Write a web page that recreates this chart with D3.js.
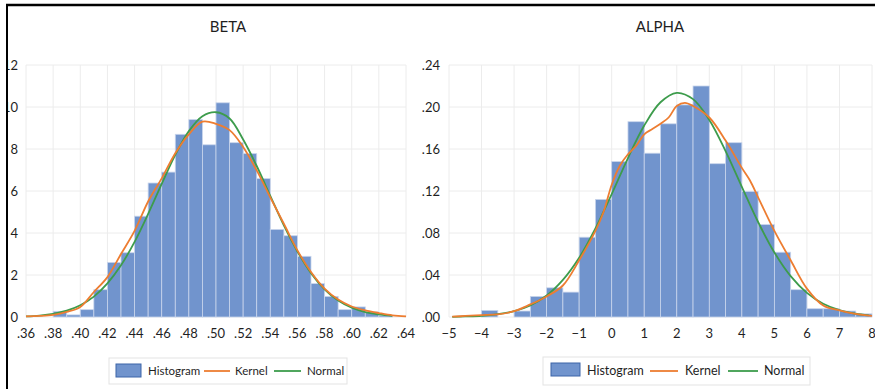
<!DOCTYPE html>
<html>
<head>
<meta charset="utf-8">
<script src="https://cdn.jsdelivr.net/npm/d3@7"></script>
<style>
  body { margin: 0; background: #fff; }
  text { font-family: Lato, "Open Sans", sans-serif; fill: #1f1f1f; }
</style>
</head>
<body>
<div id="chart"></div>
<script>
// ---- BETA data (histogram bins of width .01) ----
var betaBinStart = [0.38,0.39,0.40,0.41,0.42,0.43,0.44,0.45,0.46,0.47,0.48,0.49,0.50,0.51,0.52,0.53,0.54,0.55,0.56,0.57,0.58,0.59,0.60,0.61,0.62]
var betaHist = [0.27,0.1,0.35,1.3,2.6,3.06,4.8,6.38,6.9,8.7,9.4,8.2,10.2,8.3,7.78,6.59,4.17,3.87,2.89,1.59,0.98,0.35,0.48,0.24,0.08]
var betaKernelX = [0.36,0.37,0.38,0.39,0.40,0.41,0.42,0.43,0.44,0.45,0.46,0.47,0.48,0.49,0.50,0.51,0.52,0.53,0.54,0.55,0.56,0.57,0.58,0.59,0.60,0.61,0.62,0.63,0.64]
var betaKernel = [0.03,0.05,0.1,0.24,0.48,1.19,1.9,3.0,4.1,5.5,6.6,7.8,8.7,9.3,9.2,8.9,8.1,6.98,5.7,4.44,3.17,2.14,1.35,0.83,0.5,0.32,0.19,0.08,0.03]
var betaNormalX = [0.36,0.37,0.38,0.39,0.40,0.41,0.42,0.43,0.44,0.45,0.46,0.47,0.48,0.49,0.50,0.51,0.52,0.53,0.54,0.55,0.56,0.57,0.58,0.59,0.60,0.61,0.62,0.63]
var betaNormal = [0.03,0.07,0.15,0.3,0.56,0.97,1.6,2.46,3.58,4.91,6.34,7.72,8.85,9.56,9.75,9.45,8.45,7.19,5.77,4.36,3.12,2.09,1.32,0.78,0.44,0.23,0.12,0.05]
var betaXTicks = [0.36,0.38,0.40,0.42,0.44,0.46,0.48,0.50,0.52,0.54,0.56,0.58,0.60,0.62,0.64]
var betaYTicks = [0,2,4,6,8,10,12]

// ---- ALPHA data (histogram bins of width .5) ----
var alphaBinStart = [-4,-3.5,-3,-2.5,-2,-1.5,-1,-0.5,0,0.5,1,1.5,2,2.5,3,3.5,4,4.5,5,5.5,6,6.5,7,7.5]
var alphaHist = [0.0063,0,0.0057,0.0196,0.0278,0.0237,0.076,0.112,0.148,0.186,0.156,0.184,0.202,0.220,0.146,0.166,0.1195,0.088,0.0617,0.026,0.0079,0.0079,0.0057,0.003]
var alphaKernelX = [-4.9,-4.5,-4,-3.5,-3,-2.5,-2,-1.5,-1,-0.5,-0.25,0,0.25,0.5,0.75,1,1.25,1.5,1.75,2,2.25,2.5,3,3.5,4,4.25,4.5,5,5.5,6,6.5,7,7.5,8]
var alphaKernel = [0.0003,0.001,0.0018,0.0025,0.0055,0.012,0.0196,0.03,0.054,0.082,0.10,0.126,0.144,0.155,0.163,0.174,0.179,0.184,0.19,0.201,0.204,0.201,0.19,0.168,0.142,0.13,0.114,0.082,0.054,0.027,0.011,0.0063,0.003,0.001]
var alphaNormalX = [-4.9,-4.5,-4,-3.5,-3,-2.5,-2,-1.5,-1,-0.5,0,0.5,1,1.5,2,2.5,3,3.5,4,4.5,5,5.5,6,6.5,7,7.5,7.9]
var alphaNormal = [0.0002,0.0005,0.0011,0.0027,0.0056,0.011,0.0204,0.0353,0.0564,0.0843,0.117,0.1514,0.1823,0.2045,0.2135,0.2075,0.1877,0.158,0.124,0.0905,0.0615,0.0389,0.023,0.0126,0.0065,0.0031,0.0016]
var alphaXTicks = [-5,-4,-3,-2,-1,0,1,2,3,4,5,6,7,8]
var alphaYTicks = [0,0.04,0.08,0.12,0.16,0.20,0.24]

var barColor = "#7194cd", kernelColor = "#ed7d31", normalColor = "#3d9c4c"

var width = 875, height = 389
var svg = d3.select("#chart").append("svg")
    .attr("width", width)
    .attr("height", height)

svg.append("rect").attr("width", width).attr("height", height).attr("fill", "#fff")

function panel(opts){
   var x = d3.scaleLinear().domain(opts.xDomain).range(opts.xRange)
   var y = d3.scaleLinear().domain(opts.yDomain).range([317, 65])
   var g = svg.append("g")

   // gridlines
   g.selectAll(".vg").data(opts.xTicks).enter().append("line")
     .attr("x1", d => x(d)).attr("x2", d => x(d))
     .attr("y1", y.range()[1]).attr("y2", y.range()[0])
     .attr("stroke", "#ececec").attr("stroke-width", 1)
   g.selectAll(".hg").data(opts.yTicks).enter().append("line")
     .attr("x1", opts.xRange[0]).attr("x2", opts.xRange[1])
     .attr("y1", d => y(d)).attr("y2", d => y(d))
     .attr("stroke", "#ececec").attr("stroke-width", 1)

   // histogram
   g.selectAll(".bar").data(opts.binStart).enter().append("rect")
     .attr("x", d => x(d))
     .attr("width", (d) => x(d + opts.binWidth) - x(d))
     .attr("y", (d, i) => y(opts.hist[i]))
     .attr("height", (d, i) => y(0) - y(opts.hist[i]))
     .attr("fill", barColor)
     .attr("stroke", "#c9d5ec")
     .attr("stroke-width", 0.8)

   var line = d3.line()
     .x(d => x(d[0])).y(d => y(d[1]))
     .curve(d3.curveCatmullRom)

   g.append("path")
     .datum(d3.zip(opts.normalX, opts.normal))
     .attr("d", line).attr("fill", "none")
     .attr("stroke", normalColor).attr("stroke-width", 1.8)
   g.append("path")
     .datum(d3.zip(opts.kernelX, opts.kernel))
     .attr("d", line).attr("fill", "none")
     .attr("stroke", kernelColor).attr("stroke-width", 1.8)

   // tick labels
   g.selectAll(".xl").data(opts.xTicks).enter().append("text")
     .attr("x", d => x(d)).attr("y", 338)
     .attr("text-anchor", "middle")
     .style("font-size", "13px")
     .text(opts.xFormat)
   g.selectAll(".yl").data(opts.yTicks).enter().append("text")
     .attr("x", opts.yLabelX).attr("y", d => y(d) + 4.5)
     .attr("text-anchor", "end")
     .style("font-size", "13px")
     .text(opts.yFormat)

   g.append("text")
     .attr("x", opts.titleX).attr("y", 32)
     .attr("text-anchor", "middle")
     .style("font-size", "15px")
     .text(opts.title)
}

function noLead(fmt){
   var f = d3.format(fmt)
   return d => f(d).replace(/^0\./, ".").replace(/^-0\./, "-.")
}

panel({
   title: "BETA", titleX: 228,
   xDomain: [0.36, 0.64], xRange: [26, 406],
   yDomain: [0, 12], yLabelX: 18,
   xTicks: betaXTicks, yTicks: betaYTicks,
   binStart: betaBinStart, binWidth: 0.01, hist: betaHist,
   kernelX: betaKernelX, kernel: betaKernel,
   normalX: betaNormalX, normal: betaNormal,
   xFormat: noLead(".2f"), yFormat: d3.format("d")
})

panel({
   title: "ALPHA", titleX: 660,
   xDomain: [-5, 8], xRange: [449, 872],
   yDomain: [0, 0.24], yLabelX: 440,
   xTicks: alphaXTicks, yTicks: alphaYTicks,
   binStart: alphaBinStart, binWidth: 0.5, hist: alphaHist,
   kernelX: alphaKernelX, kernel: alphaKernel,
   normalX: alphaNormalX, normal: alphaNormal,
   xFormat: d3.format("d"), yFormat: noLead(".2f")
})

// legends
function legend(x0, y0, w, h, items, fs){
   var g = svg.append("g")
   g.append("rect").attr("x", x0).attr("y", y0).attr("width", w).attr("height", h)
     .attr("fill", "#fff").attr("stroke", "#e3e3e3").attr("stroke-width", 1)
   items.forEach(function(it){
      if(it.type === "box"){
        g.append("rect").attr("x", it.x).attr("y", y0 + 6).attr("width", it.w).attr("height", 13)
          .attr("fill", barColor).attr("stroke", "#3d64a8").attr("stroke-width", 1)
      } else {
        g.append("line").attr("x1", it.x).attr("x2", it.x + it.w)
          .attr("y1", y0 + h / 2).attr("y2", y0 + h / 2)
          .attr("stroke", it.color).attr("stroke-width", 1.8)
      }
      g.append("text").attr("x", it.tx).attr("y", y0 + h / 2 + 4)
        .style("font-size", fs + "px").text(it.label)
   })
}

legend(109, 358, 238, 26, [
   {type: "box", x: 116, w: 25, tx: 148, label: "Histogram"},
   {type: "line", x: 204, w: 26, color: kernelColor, tx: 235, label: "Kernel"},
   {type: "line", x: 274, w: 27, color: normalColor, tx: 307, label: "Normal"}
], 11.5)

legend(543, 357, 267, 28, [
   {type: "box", x: 551, w: 29, tx: 587, label: "Histogram"},
   {type: "line", x: 650, w: 28, color: kernelColor, tx: 685, label: "Kernel"},
   {type: "line", x: 728, w: 30, color: normalColor, tx: 764, label: "Normal"}
], 12.5)

// frame: white strip left of the border hides part of the "12"/"10" labels
svg.append("rect").attr("x", 0).attr("y", 0).attr("width", 6).attr("height", height).attr("fill", "#fff")
svg.append("line").attr("x1", 6).attr("x2", width).attr("y1", 5).attr("y2", 5)
   .attr("stroke", "#000").attr("stroke-width", 2.5)
svg.append("line").attr("x1", 7).attr("x2", 7).attr("y1", 4).attr("y2", height)
   .attr("stroke", "#000").attr("stroke-width", 2)
</script>
</body>
</html>
